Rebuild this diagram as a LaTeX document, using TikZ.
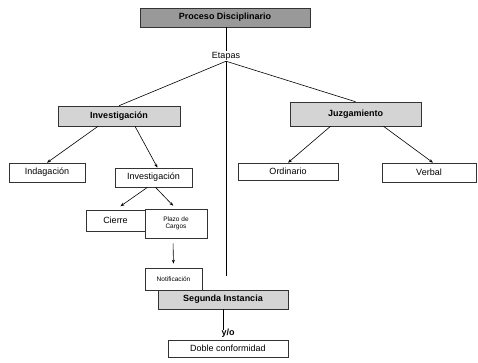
\documentclass[tikz,border=0pt]{standalone}
\usepackage{fontspec}
\setmainfont{Liberation Sans}
\usetikzlibrary{arrows.meta}

\begin{document}
\begin{tikzpicture}[x=1pt,y=-1pt,
  caja/.style={draw=black!80,line width=0.6pt,inner sep=0pt,align=center,font=\fontsize{9}{9}\selectfont},
  oscura/.style={caja,fill=black!40,font=\fontsize{9}{9}\selectfont\bfseries},
  clara/.style={caja,fill=black!17,font=\fontsize{9}{9}\selectfont\bfseries},
  chica/.style={caja,font=\fontsize{6.5}{7}\selectfont},
  flecha/.style={-{Stealth[length=4pt,width=3pt]},line width=0.6pt},
  linea/.style={line width=0.6pt}]
\useasboundingbox(0,0)rectangle(478,362);
\node[oscura,minimum width=170pt,minimum height=19pt](proc)at(225,17.5){Proceso Disciplinario};
\node[font=\fontsize{9}{9}\selectfont,inner sep=1pt](etapas)at(226,56){Etapas};
\node[clara,minimum width=122pt,minimum height=20pt](inv)at(119,116){Investigación};
\node[clara,minimum width=131pt,minimum height=24pt](juz)at(355.5,114){Juzgamiento};
\node[caja,minimum width=76pt,minimum height=19pt](indag)at(47,172.5){Indagación};
\node[caja,minimum width=77pt,minimum height=19pt](invsub)at(153.5,177.5){Investigación};
\node[caja,minimum width=59pt,minimum height=21pt](cierre)at(115.5,220.5){Cierre};
\node[chica,minimum width=62pt,minimum height=29pt](plazo)at(176,223.5){Plazo de\\Cargos};
\node[chica,minimum width=57pt,minimum height=22pt](notif)at(173.5,279){Notificación};
\node[clara,minimum width=130pt,minimum height=19pt](seg)at(223,299.5){Segunda Instancia};
\node[caja,minimum width=120pt,minimum height=17pt](doble)at(228,348.5){Doble conformidad};
\node[caja,minimum width=100pt,minimum height=17pt](ord)at(288,171.5){Ordinario};
\node[caja,minimum width=94pt,minimum height=19pt](verbal)at(429,172.5){Verbal};
\draw[linea](proc.south-|etapas)--(etapas.north);
\draw[linea](etapas.south)--(inv.north);
\draw[linea](etapas.south)--(juz.north);
\draw[linea,shorten >=14pt](etapas.south)--(seg.north-|etapas.south);
\draw[flecha]([xshift=-21pt]inv.south)--(indag.north);
\draw[flecha]([xshift=16pt]inv.south)--([xshift=4pt]invsub.north);
\draw[flecha,shorten >=6pt]([xshift=-6pt]invsub.south)--(cierre.north);
\draw[flecha,shorten >=4pt]([xshift=2pt]invsub.south)--(plazo.north);
\draw[flecha,shorten <=5pt,shorten >=4pt]([xshift=-3pt]plazo.south)--(notif.north);
\draw[linea,shorten >=10pt](seg.south)--(seg.south|-doble.north);
\node[font=\fontsize{9}{9}\selectfont\bfseries,inner sep=0pt](yo)at(228,333){y/o};
\draw[flecha]([xshift=-25pt]juz.south)--(ord.north);
\draw[flecha]([xshift=28pt]juz.south)--([xshift=4pt]verbal.north);
\end{tikzpicture}
\end{document}
